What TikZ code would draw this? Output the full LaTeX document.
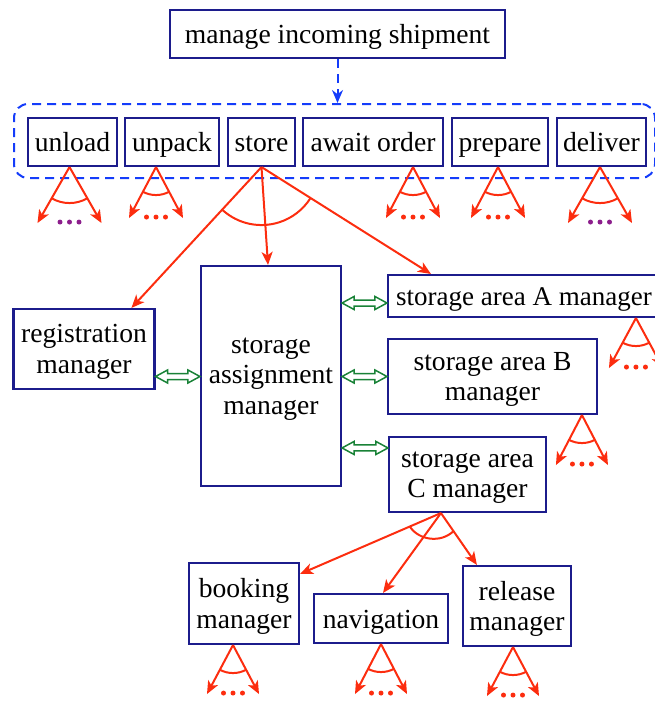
\documentclass[tikz,border=0pt]{standalone}
\usepackage{fontspec}
\setmainfont{Liberation Serif}
\usetikzlibrary{arrows.meta,calc}
\definecolor{boxblue}{RGB}{28,28,140}
\definecolor{arrred}{RGB}{252,45,15}
\definecolor{dblue}{RGB}{20,60,250}
\definecolor{gr}{RGB}{25,130,55}
\definecolor{purp}{RGB}{140,30,140}
\tikzset{
  mbox/.style={draw=boxblue, line width=2.1pt, inner sep=0pt, align=center,
    font=\fontsize{27.6}{30.5}\selectfont, text depth=0pt},
  box/.style={mbox, text height=19pt},
  grp/.style={draw=dblue, line width=2pt, dash pattern=on 9pt off 6pt, rounded corners=14pt, inner sep=0pt},
  dasharrow/.style={draw=dblue, line width=2pt, dash pattern=on 9pt off 6pt, -{Stealth[length=13pt,width=11pt]}},
  redarrow/.style={draw=arrred, line width=2pt, -{Stealth[length=13pt,width=11pt,inset=3.5pt]}},
  redarc/.style={draw=arrred, line width=2pt},
  garrow/.style={draw=gr, line width=1.5pt},
}
\newcommand\decomp[5]{% apex, dx, dy, radius, dot colour
  \pgfmathsetmacro\decang{atan(#3/#2)}%
  \draw[redarrow] (#1) -- ++(-#2,-#3);
  \draw[redarrow] (#1) -- ++(#2,-#3);
  \draw[redarc] ($(#1)+({180+\decang}:#4)$) arc[start angle=180+\decang, end angle=360-\decang, radius=#4];
  \fill[#5] ($(#1)+(-9.5,-#3+1)$) circle[radius=2.5];
  \fill[#5] ($(#1)+(0,-#3+1)$) circle[radius=2.5];
  \fill[#5] ($(#1)+(9.5,-#3+1)$) circle[radius=2.5];
}
\newcommand\garr[2]{%
  \draw[garrow] (#1) -- ($(#1)+(12,6.5)$) -- ($(#1)+(12,3)$) -- ($(#2)+(-12,3)$) -- ($(#2)+(-12,6.5)$) -- (#2)
    -- ($(#2)+(-12,-6.5)$) -- ($(#2)+(-12,-3)$) -- ($(#1)+(12,-3)$) -- ($(#1)+(12,-6.5)$) -- cycle;
}
\begin{document}
\begin{tikzpicture}[x=1pt,y=1pt]
\useasboundingbox (0,0) rectangle (655,-702);
% top
\node[box, minimum width=335, minimum height=48] (top) at (337.5,-34) {manage incoming shipment};
\node[grp, minimum width=641, minimum height=74] (grp) at (334.5,-141) {};
\node[box, minimum width=89, minimum height=48] (unload) at (72.5,-142) {unload};
\node[box, minimum width=94, minimum height=48] (unpack) at (172,-142) {unpack};
\node[box, minimum width=67, minimum height=48] (store) at (261.5,-142) {store};
\node[box, minimum width=140, minimum height=48] (await) at (373,-142) {await order};
\node[box, minimum width=96, minimum height=48] (prepare) at (500,-142) {prepare};
\node[box, minimum width=89, minimum height=48] (deliver) at (601.5,-142) {deliver};
\draw[dasharrow] (top.south) -- (top.south |- grp.north);
% middle
\node[mbox, minimum width=141, minimum height=80] (reg) at (84,-349) {registration\\manager};
\node[mbox, minimum width=140, minimum height=220] (sam) at (271,-376) {storage\\assignment\\manager};
\node[box, font=\fontsize{27}{30}\selectfont, minimum width=272, minimum height=42] (A) at (524,-296) {storage area A manager};
\node[mbox, minimum width=209, minimum height=75] (B) at (492.5,-376.5) {storage area B\\manager};
\node[mbox, minimum width=157, minimum height=75] (C) at (467.5,-474.5) {storage area\\C manager};
% bottom
\node[mbox, minimum width=110, minimum height=81] (book) at (244,-603.5) {booking\\manager};
\node[box, minimum width=134, minimum height=49] (nav) at (381,-618.5) {navigation};
\node[mbox, minimum width=108, minimum height=80] (rel) at (517,-606) {release\\manager};
% store decomposition
\coordinate (sa) at (store.south);
\coordinate (regT) at ($(reg.north west)+(119,0)$);
\coordinate (samT) at ($(sam.north)+(-3,0)$);
\coordinate (AT) at ($(A.north west)+(44,0)$);
\draw[redarrow] (sa) -- (regT);
\draw[redarrow] (sa) -- (samT);
\draw[redarrow] (sa) -- (AT);
\draw[redarc] ($(sa)+(228:58)$) arc[start angle=228, end angle=327.4, radius=58];
% C decomposition
\coordinate (ca) at ($(C.south west)+(53,0)$);
\coordinate (bookT) at ($(book.north east)+(0,-12)$);
\coordinate (navT) at ($(nav.north)+(2,0)$);
\coordinate (relT) at ($(rel.north west)+(15,0)$);
\draw[redarrow] (ca) -- (bookT);
\draw[redarrow] (ca) -- (navT);
\draw[redarrow] (ca) -- (relT);
\draw[redarc] ($(ca)!34pt!(bookT)$) to[bend right=50] ($(ca)!22pt!(relT)$);
% small decompositions
\coordinate (ua) at ($(unload.south)+(-3,0)$);
\coordinate (pa) at ($(unpack.south)+(-16,0)$);
\coordinate (wa) at ($(await.south)+(40,0)$);
\coordinate (ra) at ($(prepare.south)+(-2,0)$);
\coordinate (da) at ($(deliver.south)+(-1.5,0)$);
\coordinate (aa) at ($(A.south west)+(249,0)$);
\coordinate (ba) at ($(B.south west)+(195,0)$);
\coordinate (ka) at ($(book.south)+(-11,0)$);
\coordinate (na) at (nav.south);
\coordinate (la) at ($(rel.south)+(-4,0)$);
\decomp{ua}{32}{56}{36}{purp}
\decomp{pa}{27}{51}{28}{arrred}
\decomp{wa}{27}{51}{28}{arrred}
\decomp{ra}{27}{51}{28}{arrred}
\decomp{da}{32}{56}{36}{purp}
\decomp{aa}{27}{50}{28}{arrred}
\decomp{ba}{26}{50}{28}{arrred}
\decomp{ka}{26}{49}{28}{arrred}
\decomp{na}{26}{50}{28}{arrred}
\decomp{la}{26}{49}{28}{arrred}
% green double arrows
\coordinate (g1a) at (reg.east |- B.west);
\coordinate (g1b) at (sam.west |- B.west);
\coordinate (g2a) at ($(sam.east |- A.west)+(0,-7)$);
\coordinate (g2b) at ($(A.west)+(0,-7)$);
\coordinate (g3a) at (sam.east |- B.west);
\coordinate (g3b) at (B.west);
\coordinate (g4a) at ($(sam.east |- C.north)+(0,-12)$);
\coordinate (g4b) at ($(C.north west)+(0,-12)$);
\garr{g1a}{g1b}
\garr{g2a}{g2b}
\garr{g3a}{g3b}
\garr{g4a}{g4b}
\end{tikzpicture}
\end{document}
